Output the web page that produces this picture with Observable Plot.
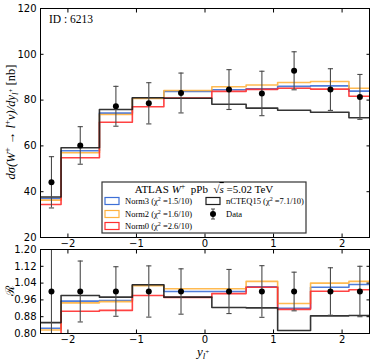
<!DOCTYPE html>
<html><head><meta charset="utf-8">
<script src="https://cdn.jsdelivr.net/npm/d3@7"></script>
<script src="https://cdn.jsdelivr.net/npm/@observablehq/plot@0.6"></script>
<style>
body{margin:0;background:#fff;}
#chart{position:relative;width:374px;height:364px;}
#chart svg{position:absolute;left:0;overflow:visible;}
</style></head><body><div id="chart"></div>
<script>
// ---- data ----
const binEdges = [-2.4, -2.1, -1.54, -1.06, -0.6, 0.1, 0.6, 1.06, 1.54, 2.1, 2.4];
const seriesNames = ["Norm3", "Norm2", "Norm0", "nCTEQ15"];
const seriesChi2 = ["1.5/10", "1.6/10", "2.6/10", "7.1/10"];
const seriesColors = ["#3d6fd6", "#ffb23e", "#ff2e2e", "#1e1e1e"];
// cross sections [nb]
const norm3 = [37.0, 57.9, 74.3, 80.9, 83.8, 84.5, 84.9, 86.0, 86.2, 83.9];
const norm2 = [36.3, 57.0, 73.7, 80.7, 84.2, 85.8, 86.6, 87.7, 88.1, 85.2];
const norm0 = [34.4, 54.8, 70.3, 77.1, 80.9, 83.8, 84.7, 85.2, 84.8, 81.7];
const ncteq = [37.7, 59.2, 75.9, 81.0, 80.8, 78.2, 76.5, 75.6, 74.7, 72.3];
// ratio to data
const norm3R = [0.825, 0.954, 0.957, 1.030, 1.000, 1.000, 1.022, 0.920, 1.020, 1.033];
const norm2R = [0.817, 0.946, 0.952, 1.028, 1.013, 1.013, 1.048, 0.943, 1.040, 1.048];
const norm0R = [0.782, 0.906, 0.910, 0.981, 0.972, 0.990, 1.020, 0.915, 1.001, 1.008];
const ncteqR = [0.852, 0.981, 0.973, 1.032, 0.973, 0.924, 0.922, 0.814, 0.884, 0.886];
// data
const dataX   = [-2.24, -1.82, -1.30, -0.82, -0.35, 0.35, 0.83, 1.30, 1.83, 2.26];
const dataY   = [44.1, 60.2, 77.3, 78.6, 83.1, 84.6, 82.9, 92.8, 84.6, 81.4];
const dataErr = [11.2, 8.2, 8.7, 9.0, 8.7, 8.7, 9.7, 8.3, 9.1, 9.8];
const ratioErr = [0.254, 0.145, 0.118, 0.122, 0.108, 0.105, 0.123, 0.092, 0.113, 0.120];
const xTicks = [-2, -1, 0, 1, 2];
const yTicksTop = [20, 40, 60, 80, 100, 120];
const yTicksBottom = [0.80, 0.88, 0.96, 1.04, 1.12, 1.20];
const idLabel = "ID : 6213";

// ---- helpers ----
const steps = vals => binEdges.map((e, i) => ({x: e, y: vals[Math.min(i, vals.length - 1)]}));
const capSymbol = {draw(ctx, size) { const r = Math.sqrt(size / Math.PI); ctx.moveTo(-r, 0); ctx.lineTo(r, 0); }};
const topSeries = [norm3, norm2, norm0, ncteq];
const ratioSeries = [norm3R, norm2R, norm0R, ncteqR];
const dataTop = dataX.map((x, i) => ({x, y: dataY[i], lo: dataY[i] - dataErr[i], hi: dataY[i] + dataErr[i]}));
const dataBot = dataX.map((x, i) => ({x, y: 1, lo: 1 - ratioErr[i], hi: 1 + ratioErr[i]}));
const errColor = "#4a4a4a";

function panel(series, pts, yDomain, yTicks, yFmt, opts) {
  const marks = [];
  series.forEach((v, i) => marks.push(Plot.line(steps(v), {x: "x", y: "y", curve: "step-after", stroke: seriesColors[i], strokeWidth: 1.6, strokeOpacity: 0.9, clip: true})));
  marks.push(Plot.ruleX(pts, {x: "x", y1: "lo", y2: "hi", stroke: errColor, strokeWidth: 1.1, clip: true}));
  marks.push(Plot.dot(pts, {x: "x", y: "lo", symbol: capSymbol, r: 2.6, stroke: errColor, strokeWidth: 1.1, clip: true}));
  marks.push(Plot.dot(pts, {x: "x", y: "hi", symbol: capSymbol, r: 2.6, stroke: errColor, strokeWidth: 1.1, clip: true}));
  marks.push(Plot.dot(pts, {x: "x", y: "y", r: 3, fill: "black", stroke: "none"}));
  marks.push(Plot.axisY({anchor: "left", ticks: yTicks, tickFormat: yFmt, tickSize: -3.5, tickPadding: 7.5, label: null}));
  marks.push(Plot.axisY({anchor: "right", ticks: yTicks, tickFormat: () => "", tickSize: -3.5, label: null}));
  marks.push(Plot.axisX({anchor: "bottom", ticks: xTicks, tickFormat: d3.format("d"), tickSize: -3.5, tickPadding: opts.xPad, label: null}));
  marks.push(Plot.axisX({anchor: "top", ticks: xTicks, tickFormat: () => "", tickSize: -3.5, label: null}));
  marks.push(Plot.frame({stroke: "black", strokeWidth: 1}));
  return Plot.plot({
    width: 374, height: opts.height,
    marginLeft: 40, marginRight: 5, marginTop: opts.mt, marginBottom: opts.mb,
    x: {domain: [-2.4, 2.4]},
    y: {domain: yDomain},
    style: {background: "transparent", overflow: "visible", fontFamily: "DejaVu Sans", fontSize: "10px", color: "black"},
    marks
  });
}

const chart = document.getElementById("chart");
const topSvg = panel(topSeries, dataTop, [20, 120], yTicksTop, d3.format("d"), {height: 244, mt: 8, mb: 7, xPad: 5.5});
topSvg.style.top = "0px";
chart.appendChild(topSvg);
const botSvg = panel(ratioSeries, dataBot, [0.8, 1.2], yTicksBottom, d3.format(".2f"), {height: 120, mt: 5, mb: 31, xPad: 5.5});
botSvg.style.top = "244px";
chart.appendChild(botSvg);

// ---- annotations ----
const serif = "'Liberation Serif', 'DejaVu Serif', serif";
const st = d3.select(topSvg);
st.append("text").attr("x", 49).attr("y", 23).attr("text-anchor", "start").attr("font-family", serif).attr("font-size", 11.5).text(idLabel);

// y label (top)
const yl = st.append("text").attr("transform", "translate(15,122) rotate(-90)").attr("text-anchor", "middle")
  .attr("font-family", serif).attr("font-size", 12.5);
yl.append("tspan").attr("font-style", "italic").text("dσ(W");
yl.append("tspan").attr("font-size", 9).attr("dy", -5).text("+");
yl.append("tspan").attr("dy", 5).attr("font-style", "italic").text(" → l");
yl.append("tspan").attr("font-size", 9).attr("dy", -5).text("+");
yl.append("tspan").attr("dy", 5).attr("font-style", "italic").text("ν)/dy");
yl.append("tspan").attr("font-size", 9).attr("dy", 3).attr("font-style", "italic").text("l");
yl.append("tspan").attr("font-size", 7).attr("dy", -5).text("+");
yl.append("tspan").attr("dy", 2).text(" [nb]");

// legend
const lg = st.append("g").attr("font-family", serif).attr("text-anchor", "start");
lg.append("rect").attr("x", 102).attr("y", 182).attr("width", 204).attr("height", 51).attr("fill", "white").attr("stroke", "#333").attr("stroke-width", 1.2);
const tt = lg.append("text").attr("x", 204).attr("y", 193).attr("text-anchor", "middle").attr("font-size", 11);
tt.append("tspan").text("ATLAS ");
tt.append("tspan").attr("font-style", "italic").text("W");
tt.append("tspan").attr("font-size", 8).attr("dy", -4).text("+");
tt.append("tspan").attr("dy", 4).text("  pPb  √");
tt.append("tspan").attr("font-style", "italic").attr("text-decoration", "overline").text("s");
tt.append("tspan").text(" =5.02 TeV");
const legPos = [[105, 201], [105, 214], [105, 226], [206, 201]];
seriesNames.forEach((n, i) => {
  const [x, y] = legPos[i];
  lg.append("rect").attr("x", x).attr("y", y - 3.5).attr("width", 14).attr("height", 7).attr("fill", "white").attr("stroke", seriesColors[i]).attr("stroke-width", 1.2);
  const t = lg.append("text").attr("x", x + 20).attr("y", y + 3).attr("font-size", 8.5);
  t.append("tspan").text(n + " (χ");
  t.append("tspan").attr("font-size", 6).attr("dy", -3).text("2");
  t.append("tspan").attr("dy", 3).text(" =" + seriesChi2[i] + ")");
});
lg.append("line").attr("x1", 213).attr("x2", 213).attr("y1", 209).attr("y2", 219).attr("stroke", errColor).attr("stroke-width", 1.1);
lg.append("line").attr("x1", 211).attr("x2", 215).attr("y1", 209).attr("y2", 209).attr("stroke", errColor);
lg.append("line").attr("x1", 211).attr("x2", 215).attr("y1", 219).attr("y2", 219).attr("stroke", errColor);
lg.append("circle").attr("cx", 213).attr("cy", 214).attr("r", 3).attr("fill", "black");
lg.append("text").attr("x", 226).attr("y", 217).attr("font-size", 8.5).text("Data");

// bottom labels
const sb = d3.select(botSvg);
sb.append("text").attr("transform", "translate(14,47) rotate(-90)").attr("text-anchor", "middle")
  .attr("font-family", "'DejaVu Serif', serif").attr("font-size", 12).text("ℛ");
const xl = sb.append("text").attr("x", 203).attr("y", 112).attr("text-anchor", "middle").attr("font-family", serif).attr("font-size", 13);
xl.append("tspan").attr("font-style", "italic").text("y");
xl.append("tspan").attr("font-style", "italic").attr("font-size", 9).attr("dy", 3).text("l");
xl.append("tspan").attr("font-size", 7).attr("dy", -5).text("+");
</script></body></html>
